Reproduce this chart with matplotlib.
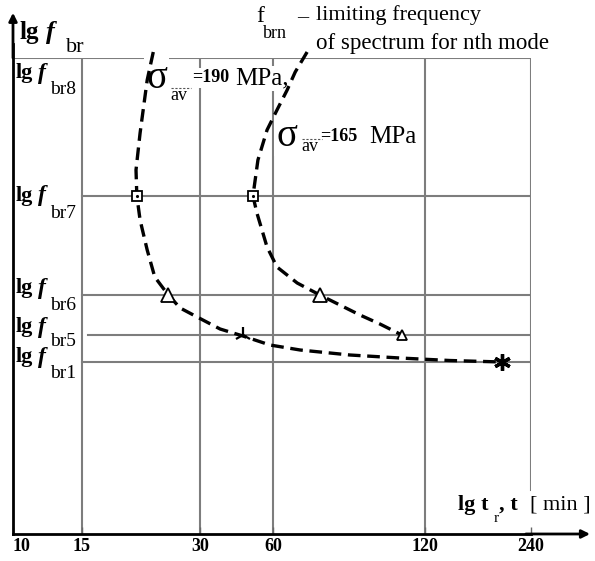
import numpy as np
import matplotlib
matplotlib.use('Agg')
import matplotlib.pyplot as plt
from matplotlib.lines import Line2D
from matplotlib.ticker import NullLocator

plt.rcParams['font.family'] = ['Liberation Serif', 'DejaVu Serif']

# x axis: time in minutes, drawn on the schematic (uneven) scale of the original
tick_minutes = [10, 15, 30, 60, 120, 240]
tick_labels = ['10', '15', '30', '60', '120', '240']
scale_pos = [0, 69, 187, 260, 412, 518]   # where each tick sits along the axis

# y axis: lg f levels (arbitrary units)
level_names = ['br8', 'br7', 'br6', 'br5', 'br1']
level_values = [4.76, 3.38, 2.39, 1.99, 1.72]

# sigma_av = 190 MPa
c190_t = [22.8, 22.0, 21.1, 20.6, 20.7, 21.1, 22.0, 23.0, 24.9, 26.7, 29.5, 36.3,
          45.1, 58.3, 67.9, 85.2, 107, 141.2, 198.5]
c190_f = [4.82, 4.54, 4.01, 3.64, 3.38, 3.14, 2.84, 2.57, 2.39, 2.26, 2.17, 2.05,
          1.98, 1.89, 1.84, 1.79, 1.76, 1.735, 1.72]
# sigma_av = 165 MPa
c165_t = [70.1, 66.4, 64.0, 61.1, 56.7, 52.0, 49.6, 51.5, 56.7, 61.1, 67.0, 74.3,
          81.4, 89.2, 97.7, 108]
c165_f = [4.82, 4.62, 4.44, 4.24, 4.04, 3.74, 3.38, 3.21, 2.87, 2.67, 2.51, 2.39,
          2.29, 2.19, 2.10, 1.99]

# marked points
m190_t = [20.7, 24.9, 45.1, 198.5]
m165_t = [49.6, 74.3, 108]

W, H = 595, 561
fig = plt.figure(figsize=(W / 100, H / 100), dpi=100)
ax = fig.add_axes([13 / W, (H - 534) / H, 518 / W, 476 / H])

lg_ticks = np.log10(tick_minutes)


def fwd(t):
    return np.interp(np.log10(np.clip(t, 1e-3, None)), lg_ticks, scale_pos)


def inv(p):
    return 10 ** np.interp(p, scale_pos, lg_ticks)


ax.set_xscale('function', functions=(fwd, inv))
ax.set_xlim(10, 240)
ax.set_ylim(0, 4.76)
ax.xaxis.set_minor_locator(NullLocator())
for s in ax.spines.values():
    s.set_visible(False)

gcol = '#7d7d7d'
glw = 1.5
# vertical grid
for t in tick_minutes[1:5]:
    ax.plot([t, t], [0, level_values[0]], color=gcol, lw=glw, zorder=1)
ax.plot([240, 240], [0.44, level_values[0]], color=gcol, lw=glw, zorder=1)
# horizontal grid
ax.plot([10, 240], [level_values[0]] * 2, color=gcol, lw=glw, zorder=1)
for name, v in zip(level_names[1:], level_values[1:]):
    start = 15.5 if name == 'br5' else 15
    ax.plot([start, 240], [v, v], color=gcol, lw=glw, zorder=1)

# axes with arrows
ax.plot([10, 10], [0, 4.9], color='k', lw=2, clip_on=False, zorder=3)
ax.plot([10, 240], [0, 0], color='k', lw=2, clip_on=False, zorder=3)
ax.annotate('', xy=(0, 1.095), xytext=(0, 1.0), xycoords='axes fraction',
            arrowprops=dict(arrowstyle='-|>', color='k', lw=2, mutation_scale=12,
                            shrinkA=0, shrinkB=0))
ax.annotate('', xy=(1.114, 0), xytext=(0.99, 0), xycoords='axes fraction',
            arrowprops=dict(arrowstyle='-|>', color='k', lw=2, mutation_scale=12,
                            shrinkA=0, shrinkB=0))

# curves
dash = (0, (3.8, 2.0))
ax.plot(c190_t, c190_f, color='k', lw=2.4, ls=dash, clip_on=False, zorder=4,
        solid_joinstyle='round', dash_capstyle='butt')
ax.plot(c165_t, c165_f, color='k', lw=2.4, ls=dash, clip_on=False, zorder=4,
        solid_joinstyle='round', dash_capstyle='butt')

mk = dict(color='k', mfc='white', zorder=5, ls='none')
lv = dict(zip(level_names, level_values))
ax.plot([m190_t[0], m165_t[0]], [lv['br7']] * 2, marker='s', ms=7, mew=1.3, **mk)
ax.plot([m190_t[0], m165_t[0]], [lv['br7']] * 2, marker='.', ms=2.5, color='k', ls='none', zorder=6)
ax.plot([m190_t[1], m165_t[1]], [lv['br6']] * 2, marker='^', ms=10, mew=1.3, **mk)
ax.plot([m190_t[2]], [lv['br5']], marker='2', ms=12, mew=1.6, color='k', ls='none', zorder=5)
ax.plot([m165_t[2]], [lv['br5']], marker='^', ms=7, mew=1.3, **mk)
ax.plot([m190_t[3]], [lv['br1']], marker=(6, 2, 0), ms=12, mew=2.4, color='k', ls='none', zorder=5)

# x ticks
ax.set_xticks(tick_minutes)
ax.set_xticklabels(tick_labels, fontsize=13, fontweight='bold')
ax.tick_params(axis='x', direction='in', length=5, width=1, color='#666666', pad=3)
ax.set_yticks([])
ax.get_xticklabels()[0].set_ha('left')


def put(x, y, s, size=14, weight='normal', style='normal', **kw):
    # text placed in figure pixels, drawn below the curves
    ax.text(x / W, 1 - y / H, s, fontsize=size, fontweight=weight,
            fontstyle=style, va='center', ha='left', transform=fig.transFigure,
            zorder=3, clip_on=False, **kw)


# y axis title
put(20, 32, 'lg', 18, 'bold')
put(46, 32, 'f', 19, 'bold', 'italic')
put(66, 48, 'br', 16)

# level labels
lab_y = {'br8': (73, 89), 'br7': (196, 213), 'br6': (288, 306),
         'br5': (327, 342), 'br1': (357, 373)}
for name in level_names:
    y1, y2 = lab_y[name]
    put(16, y1, 'lg', 16, 'bold')
    put(38, y1, 'f', 17, 'bold', 'italic')
    put(50, y2, name, 14)

# x axis title
put(458, 505, 'lg t', 16, 'bold')
put(494, 518, 'r', 11)
put(499, 505, ', t', 16, 'bold')
put(530, 505, '[ min ]', 16)

# sigma labels
wb = dict(facecolor='white', edgecolor='none', pad=1)
put(146, 78, 'σ', 28, bbox=wb)
put(170, 96, 'av', 13, bbox=wb)
put(192, 78, '=190', 13, 'bold', bbox=wb)
put(235, 78, 'MPa,', 18, bbox=wb)

put(276, 136, 'σ', 28, bbox=wb)
put(301, 147, 'av', 13, bbox=wb)
put(320, 137, '=165', 13, 'bold', bbox=wb)
put(369, 137, 'MPa', 18, bbox=wb)
for x0, y0 in ((171, 88), (302, 139)):
    fig.add_artist(Line2D([x0 / W, (x0 + 20) / W], [1 - y0 / H] * 2,
                          color='#555555', lw=0.8, ls=(0, (2, 1.5))))

# annotation at top
put(256, 17, 'f', 17)
put(263, 33, 'brn', 13)
put(297, 18, '–', 16)
put(316, 15, 'limiting frequency', 16)
put(316, 43, 'of spectrum for nth mode', 16.5)

fig.savefig('out.png', dpi=100)
